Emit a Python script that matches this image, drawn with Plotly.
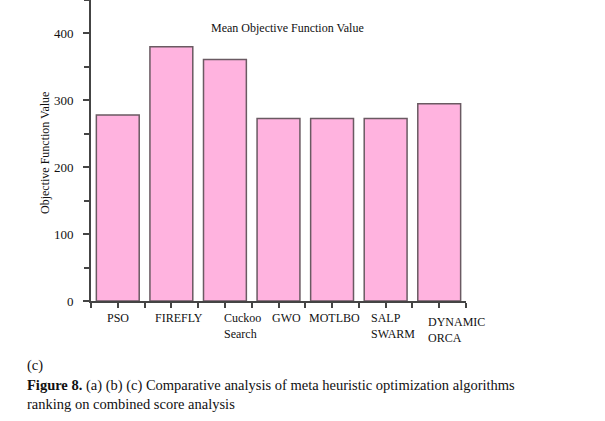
import plotly.graph_objects as go

categories = ["PSO", "FIREFLY", "Cuckoo<br>Search", "GWO", "MOTLBO", "SALP<br>SWARM", "DYNAMIC<br>ORCA"]
values = [278, 380, 361, 273, 273, 273, 295]
y_ticks = [0, 100, 200, 300, 400]

W, H = 605, 421
L, R, T, B = 91, 139, 0, 120
PW, PH = W - L - R, H - T - B
FONT = "Liberation Serif, Times New Roman, serif"

def px_x(px):
    return (px - L) / PW

def px_y(py):
    return (H - B - py) / PH

xs = list(range(len(categories)))

fig = go.Figure()
fig.add_trace(go.Bar(
    x=xs, y=values, width=0.8,
    marker=dict(color="#FFB3DF", line=dict(color="#6a5a62", width=1.5)),
    showlegend=False,
))

label_dx = [-13, -18, -3, -9, -25, -17, -13]
label_dy = [0, 0, 0, 0, 0, 0, 4]
for i, (c, dx, dy) in enumerate(zip(categories, label_dx, label_dy)):
    fig.add_annotation(
        x=i, y=0, xref="x", yref="y", text=c, showarrow=False,
        xanchor="left", yanchor="top", align="left",
        xshift=dx, yshift=-8 - dy,
        font=dict(family=FONT, size=12, color="#111"),
    )

fig.add_annotation(
    x=px_x(287), y=px_y(28), xref="paper", yref="paper",
    text="Mean Objective Function Value", showarrow=False,
    xanchor="center", yanchor="middle",
    font=dict(family=FONT, size=12, color="#111"),
)
fig.add_annotation(
    x=px_x(45), y=px_y(153), xref="paper", yref="paper",
    text="Objective Function Value", showarrow=False, textangle=-90,
    xanchor="center", yanchor="middle",
    font=dict(family=FONT, size=12, color="#111"),
)
fig.add_annotation(
    x=px_x(25), y=px_y(365), xref="paper", yref="paper",
    text="(c)", showarrow=False, xanchor="left", yanchor="middle",
    font=dict(family=FONT, size=14.5, color="#111"),
)
fig.add_annotation(
    x=px_x(25), y=px_y(375), xref="paper", yref="paper",
    text="<b>Figure 8.</b> (a) (b) (c) Comparative analysis of meta heuristic optimization algorithms<br>ranking on combined score analysis",
    showarrow=False, xanchor="left", yanchor="top", align="left",
    font=dict(family=FONT, size=14.5, color="#111"),
)

fig.update_layout(
    width=W, height=H,
    margin=dict(l=L, r=R, t=T, b=B),
    paper_bgcolor="white", plot_bgcolor="white",
    font=dict(family=FONT, size=12, color="#111"),
    xaxis=dict(
        range=[-0.5, len(categories) - 0.5],
        tickvals=xs, showticklabels=False,
        ticks="outside", ticklen=5, tickcolor="#444", tickwidth=1.5,
        minor=dict(tickvals=[i - 0.5 for i in range(len(categories) + 1)],
                   ticks="outside", ticklen=5, tickcolor="#444", tickwidth=1.5),
        showline=True, linecolor="#444", linewidth=2,
        showgrid=False, zeroline=False,
    ),
    yaxis=dict(
        range=[0, 450],
        tickvals=y_ticks,
        ticks="outside", ticklen=6, tickcolor="#444", tickwidth=1.5,
        minor=dict(dtick=50, tick0=0, ticks="outside", ticklen=5, tickcolor="#444", tickwidth=1.5),
        showline=True, linecolor="#444", linewidth=2,
        showgrid=False, zeroline=False,
        ticklabelstandoff=7,
        tickfont=dict(family=FONT, size=13, color="#111"),
    ),
)

fig.write_html("out.html")
